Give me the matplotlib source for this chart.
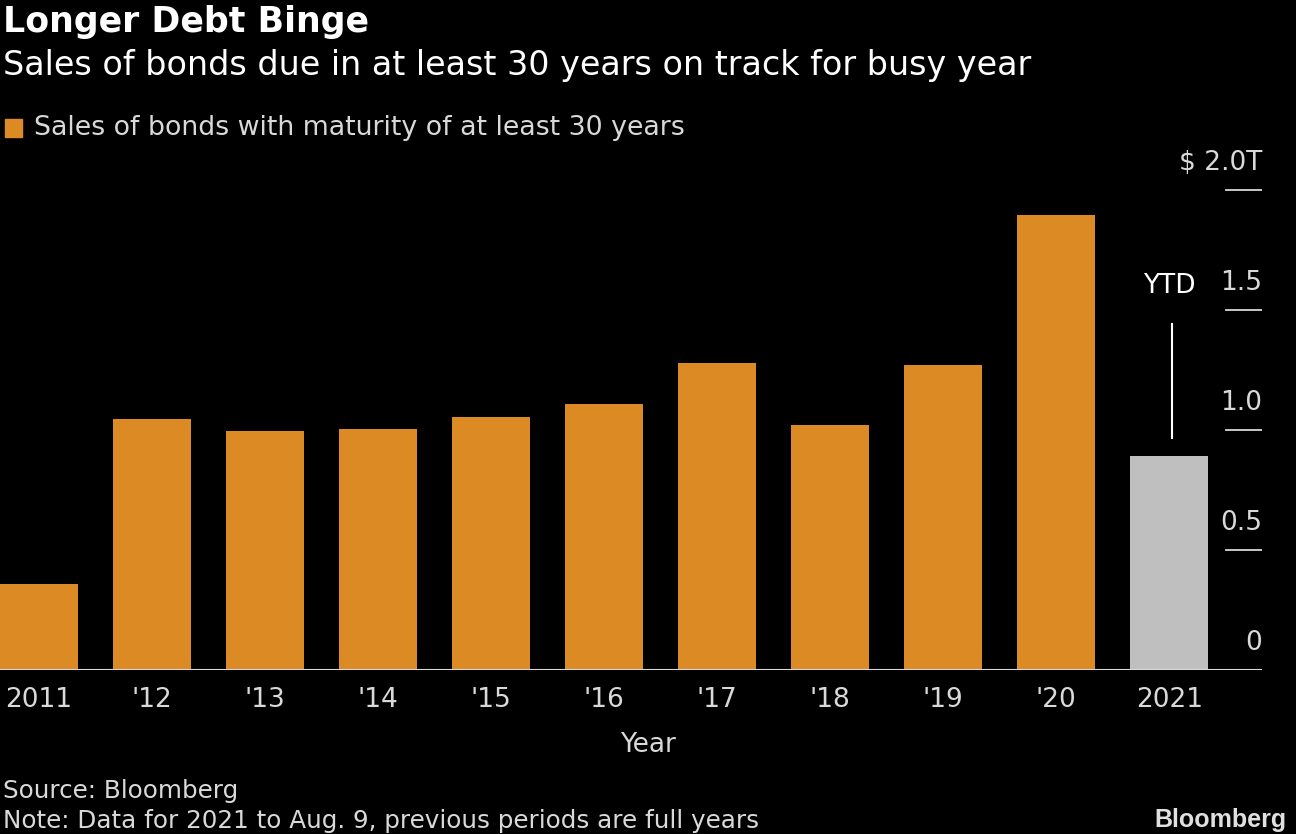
import matplotlib.pyplot as plt

plt.rcParams['font.family'] = ['DejaVu Sans']

years = ["2011", "'12", "'13", "'14", "'15", "'16", "'17", "'18", "'19", "'20", "2021"]
sales = [0.36, 1.045, 0.995, 1.005, 1.055, 1.11, 1.28, 1.02, 1.27, 1.895, 0.89]
yticks = [0, 0.5, 1.0, 1.5, 2.0]
ytick_labels = ["0", "0.5", "1.0", "1.5", "$ 2.0T"]

orange = "#dc8a24"
grey = "#bfbfbf"
txt = "#d9d9d9"

fig = plt.figure(figsize=(12.96, 8.34), dpi=100, facecolor="black")
ax = fig.add_axes([0, 164/834, 1262/1296, 520/834], facecolor="black")

colors = [orange]*(len(years)-1) + [grey]
x = list(range(len(years)))
ax.bar(x, sales, width=0.69, color=colors, zorder=2)

ax.set_xlim(-0.345, 10.82)
ax.set_ylim(0, 520/240)
ax.axhline(0, color=txt, lw=1.5, zorder=3)

# y ticks: short lines at right with labels above them
for v, lab in zip(yticks, ytick_labels):
    if v > 0:
        ax.plot([10.5, 10.82], [v, v], color=txt, lw=1.3, zorder=3)
    ax.text(10.82, v + 0.06, lab, ha="right", va="bottom", color=txt, fontsize=19)

# YTD annotation
ax.plot([10.02, 10.02], [0.965, 1.44], color="white", lw=1.5)
ax.text(10.0, 1.6, "YTD", ha="center", va="center", color="white", fontsize=19)

ax.set_xticks(x)
ax.set_xticklabels(years, color=txt, fontsize=19)
ax.tick_params(axis="x", length=0, pad=12)
ax.set_yticks([])
for s in ax.spines.values():
    s.set_visible(False)
ax.set_xlabel("Year", color=txt, fontsize=19)
ax.xaxis.set_label_coords(648/1262, -62/520)

fig.text(0.002, 1 - 22/834, "Longer Debt Binge", color="white", fontsize=25,
         fontweight="bold", va="center", ha="left")
fig.text(0.002, 1 - 66/834, "Sales of bonds due in at least 30 years on track for busy year",
         color="white", fontsize=24, va="center", ha="left")

fig.patches.append(plt.Rectangle((5/1296, 1 - 137/834), 17/1296, 18/834,
                                 transform=fig.transFigure, color=orange))
fig.text(34/1296, 1 - 128/834, "Sales of bonds with maturity of at least 30 years",
         color=txt, fontsize=19.3, va="center", ha="left")

fig.text(0.002, 1 - 791/834, "Source: Bloomberg", color=txt, fontsize=17.7, va="center")
fig.text(0.002, 1 - 821/834, "Note: Data for 2021 to Aug. 9, previous periods are full years",
         color=txt, fontsize=17.7, va="center")
fig.text(1 - 10/1296, 1 - 820/834, "Bloomberg", color="#e0e0e0", fontsize=18,
         fontweight="bold", ha="right", va="center", family=["Liberation Sans", "DejaVu Sans"])

fig.savefig("out.png", dpi=100, facecolor="black")
